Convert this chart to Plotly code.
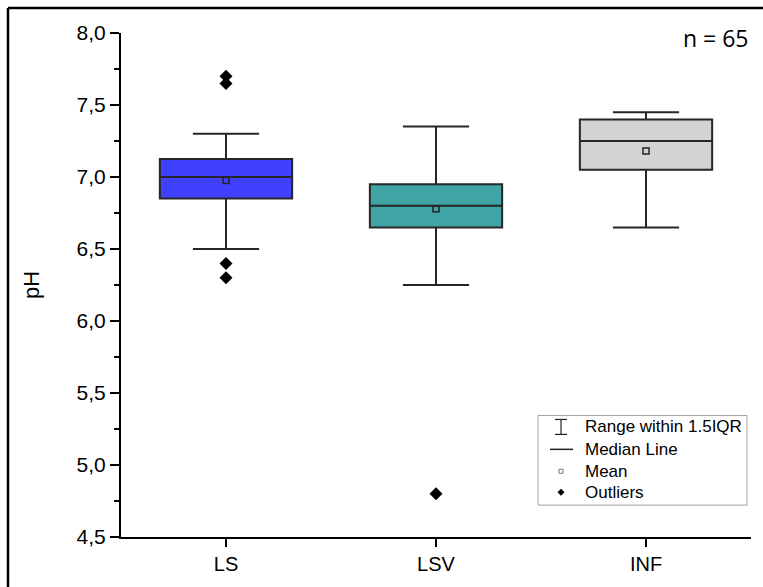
import plotly.graph_objects as go

# ---- data ----
categories = ["LS", "LSV", "INF"]
q1_vals = [6.85, 6.65, 7.05]
median_vals = [7.00, 6.80, 7.25]
q3_vals = [7.125, 6.95, 7.40]
lower_whisker = [6.50, 6.25, 6.65]
upper_whisker = [7.30, 7.35, 7.45]
mean_vals = [6.975, 6.78, 7.18]
outlier_cats = ["LS", "LS", "LS", "LS", "LSV"]
outlier_vals = [7.70, 7.65, 6.40, 6.30, 4.80]
fill_colors = ["#4040FF", "#40A4A4", "#D3D3D3"]
y_tick_vals = [4.5, 5.0, 5.5, 6.0, 6.5, 7.0, 7.5, 8.0]
y_tick_text = ["4,5", "5,0", "5,5", "6,0", "6,5", "7,0", "7,5", "8,0"]
legend_labels = ["Range within 1.5IQR", "Median Line", "Mean", "Outliers"]
n_label = "n = 65"

W, H = 763, 587
L, R, T, B = 121, 12, 33, 48
FONT = "Liberation Sans, Arial, sans-serif"

fig = go.Figure()
for i, c in enumerate(categories):
    fig.add_trace(go.Box(
        x=[c], q1=[q1_vals[i]], median=[median_vals[i]], q3=[q3_vals[i]],
        lowerfence=[lower_whisker[i]], upperfence=[upper_whisker[i]],
        fillcolor=fill_colors[i], line=dict(color="#262626", width=2),
        whiskerwidth=0.5, width=0.63, boxpoints=False, showlegend=False,
        hoverinfo="skip",
    ))

fig.add_trace(go.Scatter(
    x=categories, y=mean_vals, mode="markers", showlegend=False,
    marker=dict(symbol="square-open", size=6, color="#222222", line=dict(width=1.5)),
))
fig.add_trace(go.Scatter(
    x=outlier_cats, y=outlier_vals, mode="markers", showlegend=False,
    marker=dict(symbol="diamond", size=10, color="black"),
))

pw = W - L - R
ph = H - T - B


def px(xp):
    return (xp - L) / pw


def py(yp):
    return (H - B - yp) / ph


shapes = []
annotations = []
# outer frame (left and top edges)
shapes.append(dict(type="line", xref="paper", yref="paper", x0=px(8), x1=px(8),
                   y0=py(8), y1=py(600), line=dict(color="black", width=2.5)))
shapes.append(dict(type="line", xref="paper", yref="paper", x0=px(8), x1=px(800),
                   y0=py(8), y1=py(8), line=dict(color="black", width=2.5)))

# legend box
shapes.append(dict(type="rect", xref="paper", yref="paper", x0=px(538), x1=px(747),
                   y0=py(417), y1=py(507), line=dict(color="#a0a0a0", width=1),
                   fillcolor="white", layer="above"))
rows = [428, 451, 473, 494]
sx = 561
# I-beam
shapes.append(dict(type="line", xref="paper", yref="paper", x0=px(sx), x1=px(sx),
                   y0=py(421), y1=py(436), line=dict(color="#222", width=1.2)))
for yy in (421, 436):
    shapes.append(dict(type="line", xref="paper", yref="paper", x0=px(sx - 6), x1=px(sx + 6),
                       y0=py(yy), y1=py(yy), line=dict(color="#222", width=1.2)))
# median line
shapes.append(dict(type="line", xref="paper", yref="paper", x0=px(550), x1=px(573),
                   y0=py(rows[1]), y1=py(rows[1]), line=dict(color="#222", width=1.5)))
# mean square
shapes.append(dict(type="rect", xref="paper", yref="paper", x0=px(sx - 2), x1=px(sx + 2),
                   y0=py(rows[2] - 2), y1=py(rows[2] + 2), line=dict(color="#777", width=1)))
# outlier diamond
d = 3.5
shapes.append(dict(type="path", xref="paper", yref="paper",
                   path=f"M {px(sx)} {py(rows[3]-d)} L {px(sx+d)} {py(rows[3])} L {px(sx)} {py(rows[3]+d)} L {px(sx-d)} {py(rows[3])} Z",
                   fillcolor="black", line=dict(color="black", width=0)))
for lab, yy in zip(legend_labels, rows):
    annotations.append(dict(xref="paper", yref="paper", x=px(583), y=py(yy), text=lab,
                            showarrow=False, xanchor="left", yanchor="middle",
                            font=dict(family=FONT, size=17, color="black")))

annotations.append(dict(xref="paper", yref="paper", x=px(751), y=py(38), text=n_label,
                        showarrow=False, xanchor="right", yanchor="middle",
                        font=dict(family="Open Sans, sans-serif", size=23, color="black")))
annotations.append(dict(xref="paper", yref="paper", x=px(31), y=0.5, text="pH",
                        textangle=-90, showarrow=False, xanchor="center", yanchor="middle",
                        font=dict(family=FONT, size=22, color="black")))

fig.update_layout(
    width=W, height=H, margin=dict(l=L, r=R, t=T, b=B),
    paper_bgcolor="white", plot_bgcolor="white",
    boxmode="overlay", showlegend=False,
    shapes=shapes, annotations=annotations,
    font=dict(family=FONT, color="black"),
)
fig.update_xaxes(
    type="category", categoryorder="array", categoryarray=categories,
    range=[-0.5, 2.5], showline=True, linecolor="black", linewidth=2,
    ticks="outside", ticklen=8, tickwidth=2, tickcolor="black",
    showgrid=False, zeroline=False, tickfont=dict(family=FONT, size=20),
)
fig.update_yaxes(
    range=[4.5, 8.0], tickvals=y_tick_vals, ticktext=y_tick_text,
    showline=True, linecolor="black", linewidth=2,
    ticks="outside", ticklen=9, tickwidth=2, tickcolor="black",
    minor=dict(dtick=0.25, ticks="outside", ticklen=5, tickwidth=2, tickcolor="black", showgrid=False),
    showgrid=False, zeroline=False, tickfont=dict(family=FONT, size=21),
)

fig.write_html("out.html")
